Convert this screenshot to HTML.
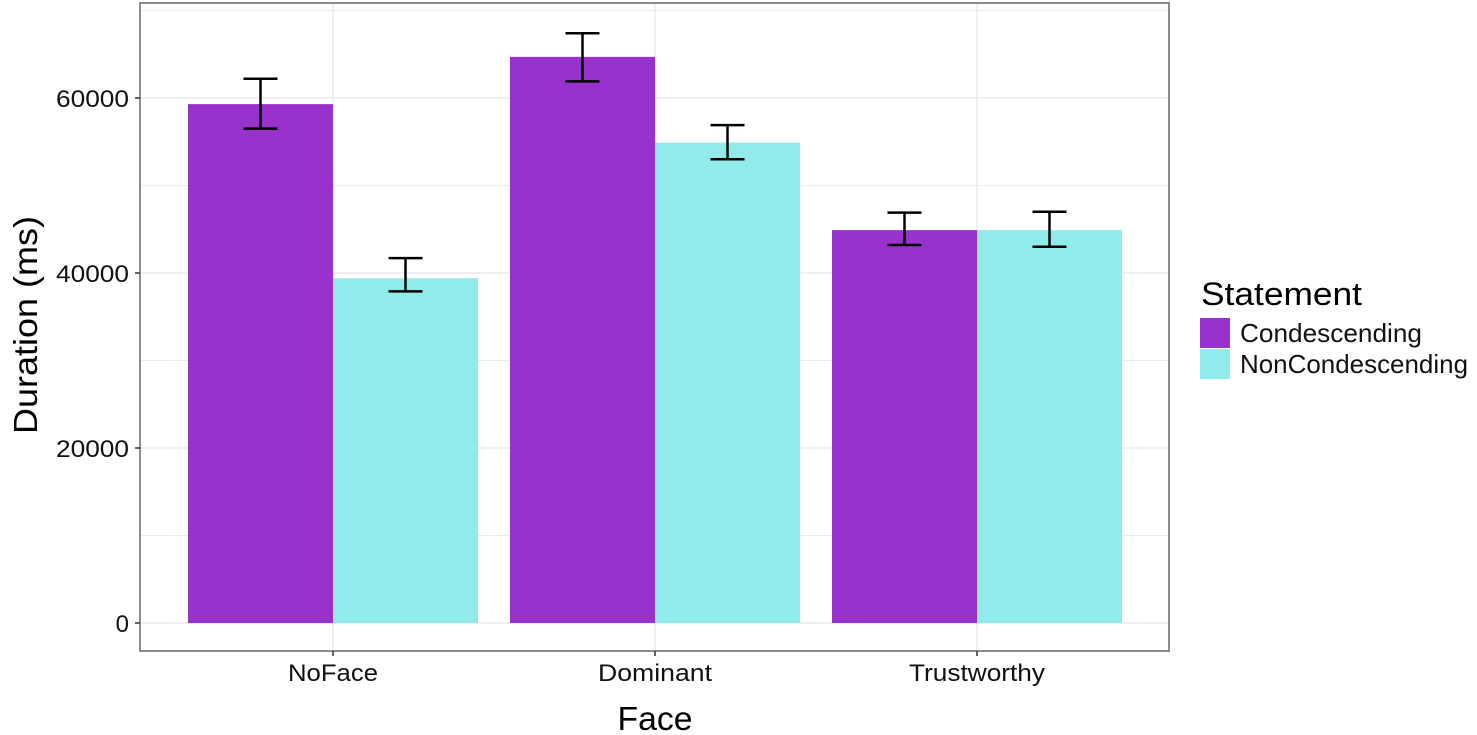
<!DOCTYPE html>
<html><head><meta charset="utf-8"><style>
body{margin:0;background:#fff}
svg{display:block;font-family:"Liberation Sans",sans-serif}
</style></head><body>
<svg id="chart" width="1477" height="735"></svg>
<script>
const categories=["NoFace","Dominant","Trustworthy"];
const seriesNames=["Condescending","NonCondescending"];
const condValues=[59300,64700,44900];
const condLow=[56500,61900,43200];
const condHigh=[62200,67400,46900];
const nonValues=[39400,54900,44900];
const nonLow=[37900,53000,43000];
const nonHigh=[41700,56900,47000];
const yTicks=[0,20000,40000,60000];
const colors=["#9932CC","#92EBEB"];
const catWidths=[90,114,136];
const NS="http://www.w3.org/2000/svg";
const svg=document.getElementById('chart');
const L=140,R=1169,T=3,B=651;
const y=v=>623-v*(525/60000);
const bandW=322, x0=188;
const xBand=i=>x0+i*bandW;
const barW=145;
function mk(tag,attrs,parent){const e=document.createElementNS(NS,tag);for(const k in attrs)e.setAttribute(k,attrs[k]);(parent||svg).appendChild(e);return e;}
const grid=mk('g',{});


for(let v=0;v<=70000;v+=10000){const yy=y(v);if(yy<T)continue;mk('line',{x1:L,x2:R,y1:yy,y2:yy,stroke:'#ebebeb','stroke-width':v%20000===0?1.5:1},grid);}
for(let i=0;i<3;i++){const xx=xBand(i)+barW;mk('line',{x1:xx,x2:xx,y1:T,y2:B,stroke:'#ebebeb','stroke-width':1.5},grid);}
const bars=mk('g',{});


const S=[[condValues,condLow,condHigh],[nonValues,nonLow,nonHigh]];
for(let i=0;i<categories.length;i++){
 for(let s=0;s<2;s++){
  const [vals,lo,hi]=S[s];
  const bx=xBand(i)+s*barW;
  const r=mk('rect',{x:bx,y:y(vals[i]),width:barW,height:y(0)-y(vals[i]),fill:colors[s]},bars);
  
  
  const cx=bx+barW/2;
  const eb=mk('g',{stroke:'#000','stroke-width':2.5,fill:'none'},bars);
  
  
  mk('line',{x1:cx,x2:cx,y1:y(hi[i]),y2:y(lo[i])},eb);
  mk('line',{x1:cx-17,x2:cx+17,y1:y(hi[i]),y2:y(hi[i])},eb);
  mk('line',{x1:cx-17,x2:cx+17,y1:y(lo[i]),y2:y(lo[i])},eb);
 }
}
const pb=mk('rect',{x:L,y:T,width:R-L,height:B-T,fill:'none',stroke:'#666','stroke-width':1.5});


for(const v of yTicks){const yy=y(v);mk('line',{x1:L-5,x2:L,y1:yy,y2:yy,stroke:'#333','stroke-width':1.5});
 const t=mk('text',{x:129,y:yy+9,'text-anchor':'end','font-size':24,fill:'#111'});t.textContent=v;
 if(v>0){t.setAttribute('textLength',73);t.setAttribute('lengthAdjust','spacingAndGlyphs');}
 
 }
for(let i=0;i<categories.length;i++){const cx=xBand(i)+barW;mk('line',{x1:cx,x2:cx,y1:B,y2:B+5,stroke:'#333','stroke-width':1.5});
 const t=mk('text',{x:cx,y:681,'text-anchor':'middle','font-size':24,fill:'#111',textLength:catWidths[i],lengthAdjust:'spacingAndGlyphs'});t.textContent=categories[i];
 
 }
const xt=mk('text',{x:655,y:730,'text-anchor':'middle','font-size':33,fill:'#000',textLength:75,lengthAdjust:'spacingAndGlyphs'});xt.textContent='Face';


const yt=mk('text',{x:0,y:0,'text-anchor':'middle','font-size':33,fill:'#000',textLength:218,lengthAdjust:'spacingAndGlyphs',transform:'translate(37,325) rotate(-90)'});yt.textContent='Duration (ms)';


const lg=mk('g',{});


const lt=mk('text',{x:1201,y:305,'font-size':32,fill:'#000',textLength:161,lengthAdjust:'spacingAndGlyphs'},lg);lt.textContent='Statement';


for(let s=0;s<2;s++){const yy=318+s*31;
 const k=mk('rect',{x:1200,y:yy,width:30,height:30,fill:colors[s]},lg);
 
 
 const t=mk('text',{x:1240,y:yy+24,'font-size':26,fill:'#111',textLength:s===0?182:228,lengthAdjust:'spacingAndGlyphs'},lg);t.textContent=seriesNames[s];
 
 }
</script>
</body></html>
